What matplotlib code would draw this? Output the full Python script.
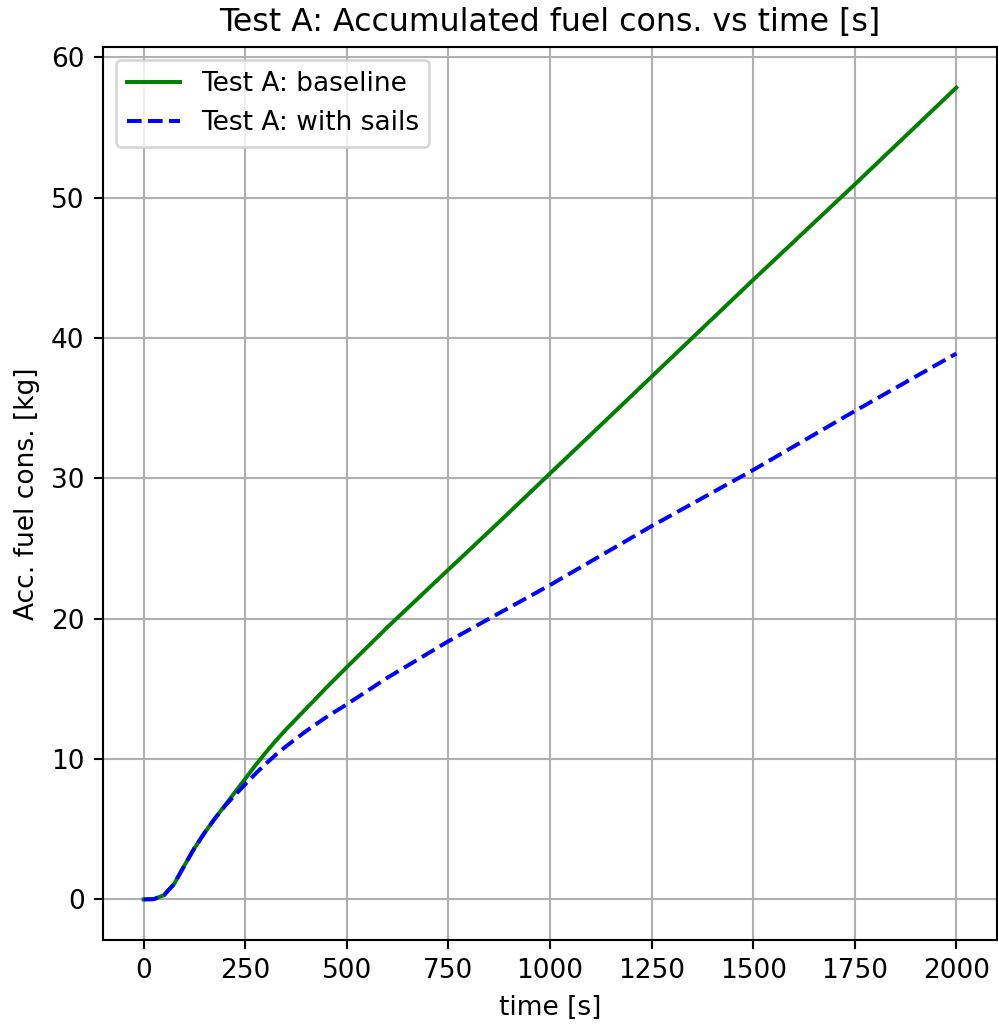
import matplotlib
matplotlib.use("Agg")
import matplotlib.pyplot as plt

# Accumulated fuel consumption, Test A
time_s = [0, 25, 50, 75, 100, 125, 150, 175, 200, 225, 250, 275, 300, 325, 350, 400,
          450, 500, 600, 750, 875, 1000, 1250, 1500, 1750, 2000]
fuel_baseline = [0.0, 0.02, 0.3, 1.1, 2.4, 3.65, 4.75, 5.75, 6.7, 7.65, 8.6, 9.55, 10.45,
                 11.3, 12.1, 13.6, 15.1, 16.55, 19.4, 23.5, 26.9, 30.35, 37.25, 44.15,
                 50.95, 57.85]
fuel_sails = [0.0, 0.02, 0.3, 1.1, 2.4, 3.65, 4.75, 5.75, 6.65, 7.45, 8.2, 8.95, 9.65,
              10.3, 10.9, 12.0, 13.0, 13.9, 15.8, 18.4, 20.4, 22.4, 26.6, 30.6, 34.8, 38.9]

label_baseline = "Test A: baseline"
label_sails = "Test A: with sails"

DPI = 190
fig = plt.figure(figsize=(998 / DPI, 1024 / DPI), dpi=DPI)
ax = fig.add_axes([103 / 998, 1 - 940 / 1024, (997 - 103) / 998, (940 - 47) / 1024])

ax.plot(time_s, fuel_baseline, color="green", linestyle="-", label=label_baseline)
ax.plot(time_s, fuel_sails, color="blue", linestyle="--", label=label_sails)

ax.set_title("Test A: Accumulated fuel cons. vs time [s]")
ax.set_xlabel("time [s]")
ax.set_ylabel("Acc. fuel cons. [kg]")
ax.set_xticks([0, 250, 500, 750, 1000, 1250, 1500, 1750, 2000])
ax.grid(True)
ax.legend(loc="upper left")

fig.savefig("out.png", dpi=DPI)
